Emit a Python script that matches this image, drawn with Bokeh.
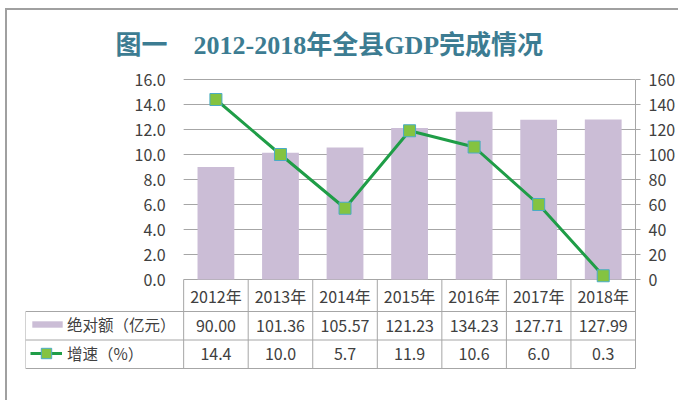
import numpy as np
from bokeh.plotting import figure
from bokeh.layouts import column
from bokeh.models import Range1d, LinearAxis, FixedTicker, Legend, LegendItem
from bokeh.core.properties import value
from bokeh.embed import file_html
from bokeh.resources import INLINE

# ---------------- data ----------------
years = ["2012年", "2013年", "2014年", "2015年", "2016年", "2017年", "2018年"]
amount = [90.00, 101.36, 105.57, 121.23, 134.23, 127.71, 127.99]   # 亿元 (right axis)
growth = [14.4, 10.0, 5.7, 11.9, 10.6, 6.0, 0.3]                   # % (left axis)
left_ticks = [0, 2, 4, 6, 8, 10, 12, 14, 16]
left_tick_labels = ["0.0", "2.0", "4.0", "6.0", "8.0", "10.0", "12.0", "14.0", "16.0"]
right_ticks = [0, 20, 40, 60, 80, 100, 120, 140, 160]
title_text = "图一\u30002012-2018年全县GDP完成情况"
amount_label = "绝对额（亿元）"
growth_label = "增速（%）"

# ---------------- styles ----------------
FONT = "Noto Sans CJK SC"
TXT = "#404040"
GRID = "#A6A6A6"
BAR = "#CBBDD6"
LINE = "#1F9D47"
MK_FILL = "#84C341"
MK_LINE = "#4AACC6"

n = len(years)
xc = np.arange(n) + 0.5
LEG_W = 2.45          # width of the row-header column (category units)
HDR = 2.56            # header row height (left-axis units)
ROW = 2.28            # data row height
y_hdr = -HDR
y_r1 = -HDR - ROW
y_r2 = -HDR - 2 * ROW
Y_TOP = 16.72         # a little headroom so the top tick label is not clipped
RATIO = 10            # right axis / left axis

p = figure(width=671, height=390, x_range=Range1d(-LEG_W, n),
           y_range=Range1d(-7.2, Y_TOP), x_axis_type=None, y_axis_type=None,
           output_backend="svg", toolbar_location=None,
           min_border_left=18, min_border_right=43, min_border_top=60,
           min_border_bottom=31, title=title_text)
p.outline_line_color = None
p.background_fill_color = "white"

p.title.text_font = "'Liberation Serif', 'Noto Sans CJK SC'"
p.title.text_font_size = "26px"
p.title.text_font_style = "bold"
p.title.text_color = "#3C7C92"
p.title.align = "left"
p.title.offset = 90
p.title.standoff = 21

p.extra_y_ranges = {"amt": Range1d(-7.2 * RATIO, Y_TOP * RATIO)}
ax = LinearAxis(y_range_name="amt", ticker=FixedTicker(ticks=right_ticks),
                bounds=(y_r2 * RATIO, right_ticks[-1]))
ax.axis_line_color = GRID
ax.major_tick_line_color = GRID
ax.major_tick_out = 5
ax.major_tick_in = 0
ax.minor_tick_line_color = None
ax.major_label_text_font = FONT
ax.major_label_text_font_size = "16px"
ax.major_label_text_color = TXT
ax.major_label_standoff = 8
p.add_layout(ax, "right")

# gridlines (left-axis ticks) across the plotting area only
p.segment(x0=0, x1=n, y0=left_ticks, y1=left_ticks, line_color=GRID, line_width=1)

# bars and line
r_bar = p.vbar(x=xc, top=amount, bottom=0, width=0.57, y_range_name="amt",
               fill_color=BAR, line_color=None)
r_line = p.line(xc, growth, line_color=LINE, line_width=3)
r_pts = p.scatter(xc, growth, marker="square", size=12, fill_color=MK_FILL,
                  line_color=MK_LINE, line_width=1)

# left tick labels
p.text(x=0, y=left_ticks, text=left_tick_labels, x_offset=-18,
       text_align="right", text_baseline="middle", text_font=value(FONT),
       text_font_size="16px", text_color=TXT)

# data table grid
vx = np.arange(n + 1)
p.segment(x0=vx, x1=vx, y0=0, y1=y_r2, line_color=GRID, line_width=1)
p.segment(x0=-LEG_W, x1=-LEG_W, y0=y_hdr, y1=y_r2, line_color=GRID, line_width=1)
hy = [y_hdr, y_r1, y_r2]
p.segment(x0=-LEG_W, x1=n, y0=hy, y1=hy, line_color=GRID, line_width=1)

tk = dict(text_align="center", text_baseline="middle", text_font=value(FONT),
          text_font_size="16px", text_color=TXT)
p.text(x=xc, y=y_hdr / 2, text=years, **tk)
p.text(x=xc, y=(y_hdr + y_r1) / 2, text=[f"{v:.2f}" for v in amount], **tk)
p.text(x=xc, y=(y_r1 + y_r2) / 2, text=[f"{v:.1f}" for v in growth], **tk)

# row headers with legend keys
lk = dict(padding=0, margin=0, border_line_color=None, background_fill_alpha=0,
          label_text_font=FONT, label_text_font_size="15.5px",
          label_text_color=TXT)
leg1 = Legend(items=[LegendItem(label=amount_label, renderers=[r_bar])],
              location=(3, 34), glyph_width=38, glyph_height=8,
              label_standoff=1, **lk)
leg2 = Legend(items=[LegendItem(label=growth_label, renderers=[r_line, r_pts])],
              location=(5, 3), glyph_width=32, glyph_height=26,
              label_standoff=5, **lk)
p.add_layout(leg1)
p.add_layout(leg2)

# outer frame of the pasted chart (left and top edges)
root = column(p, styles={"margin-left": "5px", "margin-top": "8px",
                         "border-left": "2px solid #A0A0A0",
                         "border-top": "2px solid #A0A0A0"})

open("out.html", "w").write(file_html(root, INLINE))
